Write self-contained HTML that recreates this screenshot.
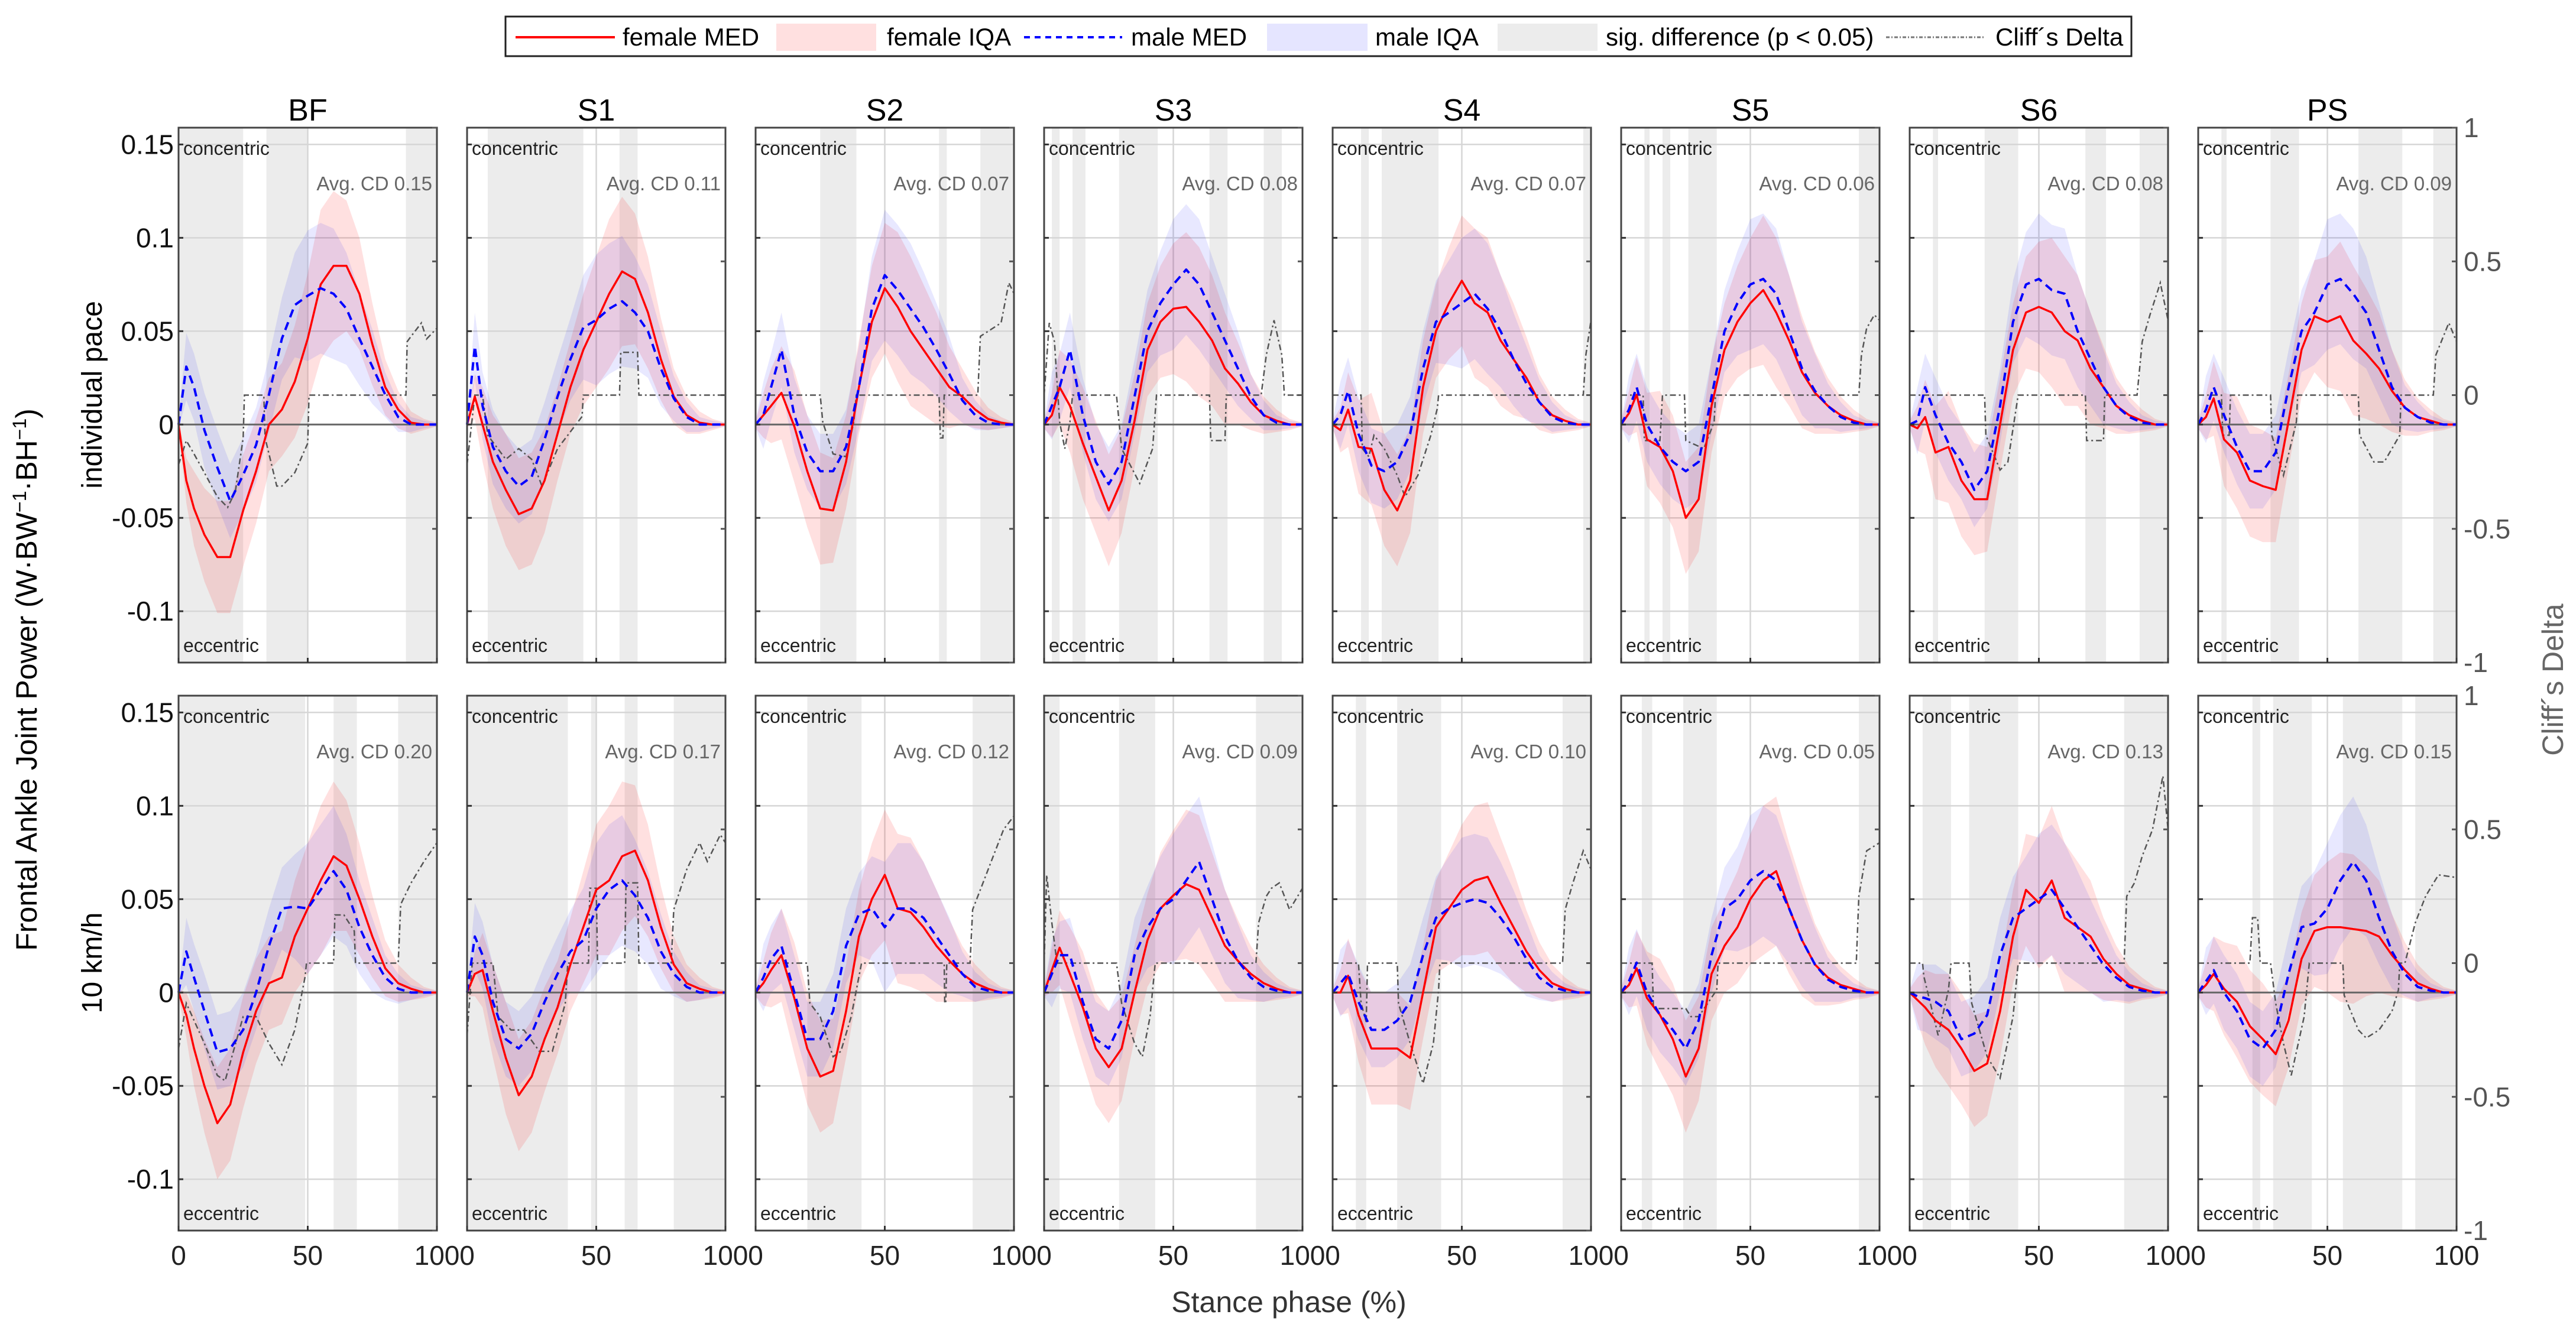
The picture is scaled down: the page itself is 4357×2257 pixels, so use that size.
<!DOCTYPE html>
<html><head><meta charset="utf-8">
<style>
html,body{margin:0;padding:0;background:#fff;}
svg{display:block;font-family:"Liberation Sans",Arial,sans-serif;}
</style></head>
<body>
<svg id="chart" xmlns="http://www.w3.org/2000/svg" width="4357" height="2257" viewBox="0 0 4357 2257">
<rect x="0" y="0" width="4357" height="2257" fill="#fff"/>
<g id="legend">
 <rect x="855" y="28" width="2750" height="67" fill="#fff" stroke="#222" stroke-width="3"/>
 <line x1="872" y1="63" x2="1040" y2="63" stroke="#ff0000" stroke-width="4"/>
 <text x="1053" y="77" font-size="42">female MED</text>
 <rect x="1313" y="40" width="169" height="46" fill="rgba(255,0,0,0.12)"/>
 <text x="1500" y="77" font-size="42">female IQA</text>
 <line x1="1732" y1="63" x2="1898" y2="63" stroke="#0000ff" stroke-width="4" stroke-dasharray="10,8"/>
 <text x="1913" y="77" font-size="42">male MED</text>
 <rect x="2143" y="40" width="170" height="46" fill="rgba(0,0,255,0.1)"/>
 <text x="2326" y="77" font-size="42">male IQA</text>
 <rect x="2533" y="40" width="169" height="46" fill="#ececec"/>
 <text x="2716" y="77" font-size="42">sig. difference (p &lt; 0.05)</text>
 <line x1="3190" y1="63" x2="3358" y2="63" stroke="#777" stroke-width="3" stroke-dasharray="6,3,2,3"/>
 <text x="3375" y="77" font-size="42">Cliff´s Delta</text>
</g>
<text transform="translate(62,1150) rotate(-90)" text-anchor="middle" font-size="50">Frontal Ankle Joint Power (W·BW<tspan font-size="32" dy="-18">−1</tspan><tspan dy="18">·BH</tspan><tspan font-size="32" dy="-18">−1</tspan><tspan dy="18">)</tspan></text>
<text transform="translate(172,668) rotate(-90)" text-anchor="middle" font-size="48">individual pace</text>
<text transform="translate(172,1629) rotate(-90)" text-anchor="middle" font-size="48">10  km/h</text>
<text x="2180" y="2220" text-anchor="middle" font-size="50" fill="#333">Stance phase (%)</text>
<text transform="translate(4335,1150) rotate(-90)" text-anchor="middle" font-size="50" fill="#666">Cliff´s Delta</text>
<g id="panels"></g>
</svg>
<script>
const panelNames = ["BF","S1","S2","S3","S4","S5","S6","PS"];
const xs = [0,3,6,10,15,20,25,30,35,40,45,50,55,60,65,70,75,80,85,90,95,100];
const femSpread = [0.002,0.012,0.02,0.025,0.03,0.03,0.03,0.028,0.025,0.025,0.03,0.035,0.04,0.04,0.035,0.03,0.022,0.015,0.01,0.006,0.003,0.001];
const maleSpread = [0.002,0.018,0.018,0.02,0.02,0.02,0.02,0.02,0.02,0.022,0.028,0.035,0.035,0.035,0.03,0.025,0.02,0.012,0.008,0.004,0.002,0.001];
const avgCD = [["0.15","0.11","0.07","0.08","0.07","0.06","0.08","0.09"],["0.20","0.17","0.12","0.09","0.10","0.05","0.13","0.15"]];
const femMed = [[
 [0,-0.03,-0.045,-0.059,-0.071,-0.071,-0.046,-0.025,0,0.008,0.023,0.046,0.075,0.085,0.085,0.07,0.043,0.02,0.008,0.001,0,0],
 [0,0.015,0.0,-0.02,-0.035,-0.048,-0.045,-0.03,-0.005,0.02,0.04,0.055,0.07,0.082,0.078,0.06,0.035,0.015,0.005,0.001,0,0],
 [0,0.005,0.01,0.017,-0.001,-0.025,-0.045,-0.046,-0.02,0.02,0.055,0.073,0.063,0.05,0.04,0.03,0.02,0.015,0.008,0.003,0.001,0],
 [0,0.005,0.02,0.01,-0.01,-0.028,-0.046,-0.03,0.002,0.04,0.055,0.062,0.063,0.055,0.045,0.03,0.022,0.012,0.005,0.002,0,0],
 [0,-0.003,0.008,-0.012,-0.013,-0.035,-0.046,-0.03,0.02,0.05,0.065,0.077,0.065,0.06,0.045,0.035,0.025,0.012,0.005,0.002,0,0],
 [0,0.006,0.016,-0.008,-0.012,-0.025,-0.05,-0.04,0.01,0.04,0.055,0.065,0.072,0.06,0.045,0.028,0.017,0.01,0.005,0.002,0,0],
 [0,-0.002,0.004,-0.015,-0.012,-0.03,-0.04,-0.04,0.0,0.04,0.06,0.063,0.06,0.05,0.045,0.03,0.02,0.01,0.005,0.002,0,0],
 [0,0.004,0.014,-0.008,-0.015,-0.03,-0.033,-0.035,0.002,0.04,0.058,0.055,0.058,0.045,0.038,0.03,0.018,0.009,0.004,0.002,0,0]
],[
 [0,-0.012,-0.03,-0.05,-0.07,-0.06,-0.032,-0.01,0.005,0.008,0.03,0.045,0.06,0.073,0.068,0.05,0.03,0.013,0.005,0.002,0,0],
 [0,0.01,0.012,-0.01,-0.035,-0.055,-0.045,-0.025,-0.008,0.015,0.035,0.055,0.06,0.073,0.076,0.06,0.035,0.015,0.005,0.002,0,0],
 [0,0.005,0.012,0.02,-0.003,-0.03,-0.045,-0.042,-0.01,0.03,0.05,0.063,0.045,0.043,0.035,0.025,0.017,0.01,0.005,0.002,0,0],
 [0,0.012,0.024,0.01,-0.008,-0.03,-0.04,-0.03,0.0,0.028,0.045,0.052,0.058,0.055,0.04,0.025,0.017,0.01,0.005,0.002,0,0],
 [0,0.0,0.009,-0.012,-0.03,-0.03,-0.03,-0.035,0.0,0.035,0.045,0.055,0.06,0.062,0.048,0.035,0.022,0.012,0.005,0.002,0,0],
 [0,0.004,0.013,-0.003,-0.012,-0.025,-0.045,-0.03,0.01,0.025,0.035,0.05,0.06,0.065,0.045,0.028,0.015,0.008,0.004,0.002,0,0],
 [0,-0.004,-0.008,-0.015,-0.02,-0.03,-0.042,-0.038,-0.01,0.03,0.055,0.048,0.06,0.04,0.035,0.03,0.018,0.01,0.004,0.002,0,0],
 [0,0.004,0.01,0.002,-0.005,-0.018,-0.025,-0.033,-0.015,0.018,0.033,0.035,0.035,0.034,0.033,0.03,0.02,0.012,0.005,0.002,0,0]
]];
const maleMed = [[
 [0,0.031,0.02,-0.003,-0.023,-0.041,-0.027,-0.011,0.016,0.046,0.064,0.069,0.073,0.07,0.062,0.046,0.031,0.016,0.004,0,0,0],
 [0,0.042,0.01,-0.012,-0.025,-0.033,-0.028,-0.008,0.015,0.035,0.052,0.056,0.062,0.066,0.06,0.05,0.03,0.014,0.004,0,0,0],
 [0,0.005,0.02,0.04,0.005,-0.015,-0.025,-0.025,-0.012,0.02,0.062,0.08,0.072,0.062,0.052,0.04,0.027,0.013,0.005,0.001,0,0],
 [0,0.01,0.02,0.04,0.005,-0.02,-0.032,-0.02,0.015,0.05,0.065,0.075,0.083,0.075,0.06,0.045,0.03,0.015,0.005,0.001,0,0],
 [0,0.005,0.018,-0.005,-0.022,-0.025,-0.02,-0.005,0.03,0.055,0.06,0.065,0.07,0.062,0.05,0.035,0.022,0.012,0.004,0.001,0,0],
 [0,0.008,0.02,0.0,-0.012,-0.02,-0.025,-0.02,0.015,0.05,0.065,0.075,0.078,0.07,0.05,0.03,0.018,0.01,0.004,0.001,0,0],
 [0,0.002,0.02,0.005,-0.01,-0.02,-0.035,-0.025,0.01,0.055,0.075,0.078,0.072,0.07,0.05,0.035,0.02,0.01,0.004,0.001,0,0],
 [0,0.008,0.02,0.005,-0.012,-0.025,-0.025,-0.015,0.02,0.05,0.06,0.075,0.078,0.07,0.06,0.04,0.02,0.009,0.004,0.001,0,0]
],[
 [0,0.022,0.008,-0.01,-0.032,-0.03,-0.02,0.0,0.025,0.045,0.046,0.045,0.055,0.065,0.055,0.035,0.02,0.008,0.002,0,0,0],
 [0,0.03,0.02,-0.005,-0.025,-0.03,-0.022,-0.005,0.01,0.022,0.028,0.045,0.055,0.06,0.052,0.04,0.022,0.01,0.003,0,0,0],
 [0,0.008,0.018,0.025,0.0,-0.025,-0.025,-0.01,0.025,0.042,0.045,0.035,0.045,0.045,0.04,0.03,0.02,0.01,0.003,0.001,0,0],
 [0,0.01,0.02,0.02,-0.005,-0.025,-0.03,-0.015,0.02,0.035,0.045,0.05,0.06,0.07,0.05,0.03,0.017,0.008,0.003,0.001,0,0],
 [0,0.005,0.01,-0.005,-0.02,-0.02,-0.015,-0.005,0.02,0.04,0.045,0.048,0.05,0.048,0.04,0.03,0.018,0.008,0.003,0.001,0,0],
 [0,0.006,0.016,0.0,-0.012,-0.02,-0.03,-0.015,0.02,0.045,0.05,0.06,0.065,0.06,0.045,0.028,0.015,0.007,0.003,0.001,0,0],
 [0,-0.002,-0.003,-0.005,-0.01,-0.025,-0.022,-0.012,0.02,0.04,0.045,0.05,0.055,0.045,0.035,0.025,0.015,0.008,0.003,0.001,0,0],
 [0,0.006,0.012,0.0,-0.01,-0.025,-0.03,-0.02,0.01,0.035,0.037,0.045,0.06,0.07,0.06,0.04,0.022,0.01,0.003,0.001,0,0]
]];
const cdX = [[
 [0,3,6,10,15,19,22,25,25.5,33,33.5,38,40,45,50,50.5,88,88.5,90,94,96,100],
 [0,3,6,8,15,20,25,29,35,44.5,45,59,59.5,66,66.5,100],
 [0,25,26,30,35,38,39,71,71.5,72.5,73,86,87,95,98,100],
 [0,2,4,6,8,10,11,28,30,37,42,43.5,64,64.5,70,70.5,84,86,89,92,93,100],
 [0,11,11.5,14,16,20,25,28,33,38,40.5,41,97,98,100],
 [0,8.5,9,15,16,24.5,25,32,36,36.5,92,93,95,98,100],
 [0,29,29.5,35,38,42,68,68.5,75,75.5,88,90,93,97,100],
 [0,9,9.5,12,12.5,28,28.5,33,38,38.5,62,62.5,68,72,78,78.5,91,92,97,100]
],[
 [0,3,10,15,18,25,30,35,40,45,49,49.5,60,60.5,64,68,68.5,85,86,90,95,100],
 [0,2,10,12,17,22,28,33,38,39,47,47.5,50,50.5,61,61.5,66,66.5,79,80,85,90,93,98,100],
 [0,20,21,25,30,33,37,40,41,73,73.2,73.6,74,83,84,88,92,96,100],
 [0,1,3,5,28,30,35,38,41,43,82,83,86,88,91,95,100],
 [0,10,11,13,13.5,25,25.5,30,35,39,41,41.5,89,90,93,97,100],
 [0,12,12.5,25,27,30,37,37.5,91,92,95,100],
 [0,5,5.5,8,11,15,16,23,24,30,35,40,42,83,84,87,90,94,98,100],
 [0,20,21,23,24,28,30,33,36,41,43,56,56.5,62,65,70,75,77.5,78,80,84,88,93,100]
]];
const cdY = [[
 [-0.26,-0.17,-0.22,-0.29,-0.38,-0.42,-0.36,-0.16,0,0,-0.16,-0.34,-0.34,-0.29,-0.18,0,0,0.2,0.22,0.27,0.21,0.25],
 [-0.26,0,0,-0.15,-0.24,-0.2,-0.24,-0.34,-0.2,-0.08,0,0,0.16,0.16,0,0],
 [0,0,-0.1,-0.22,-0.23,-0.1,0,0,-0.16,-0.16,0,0,0.22,0.27,0.42,0.38],
 [0,0.27,0.2,-0.1,-0.2,-0.1,0,0,-0.2,-0.33,-0.2,0,0,-0.17,-0.17,0,0,0.15,0.28,0.15,0,0],
 [0,0,-0.2,-0.23,-0.15,-0.2,-0.3,-0.38,-0.3,-0.15,-0.05,0,0,0.15,0.28],
 [0,0,-0.17,-0.17,0,0,-0.17,-0.2,-0.1,0,0,0.15,0.25,0.3,0.28],
 [0,0,-0.15,-0.28,-0.25,0,0,-0.17,-0.17,0,0,0.2,0.3,0.42,0.28],
 [0,0,-0.15,-0.15,0,0,-0.15,-0.3,-0.1,0,0,-0.15,-0.25,-0.25,-0.15,0,0,0.15,0.27,0.2]
],[
 [-0.32,-0.15,-0.3,-0.42,-0.44,-0.2,-0.2,-0.3,-0.38,-0.25,-0.05,0,0,0.18,0.18,0.12,0,0,0.22,0.3,0.38,0.45],
 [-0.27,0,0,-0.2,-0.25,-0.25,-0.33,-0.33,-0.15,0,0,0.28,0.28,0,0,0.3,0.3,0,0,0.2,0.35,0.45,0.38,0.48,0.45],
 [0,0,-0.15,-0.2,-0.35,-0.33,-0.2,-0.05,0,0,-0.15,-0.15,0,0,0.2,0.3,0.4,0.5,0.55],
 [0,0.33,0.15,0,0,-0.15,-0.3,-0.35,-0.2,0,0,0.15,0.25,0.28,0.3,0.2,0.28],
 [0,0,-0.15,-0.22,0,0,-0.15,-0.3,-0.45,-0.3,-0.1,0,0,0.2,0.3,0.42,0.35],
 [0,0,-0.17,-0.17,-0.2,-0.2,-0.1,0,0,0.25,0.42,0.45],
 [0,0,-0.05,-0.15,-0.27,-0.1,0,0,-0.15,-0.35,-0.43,-0.2,0,0,0.25,0.3,0.4,0.5,0.7,0.5],
 [0,0,0.17,0.17,0,0,-0.15,-0.3,-0.42,-0.2,0,0,-0.12,-0.25,-0.28,-0.25,-0.18,-0.1,0,0,0.15,0.25,0.33,0.32]
]];
const sigSpans = [[
 [[0,25],[34,50],[88,100]],
 [[8,45],[59,66]],
 [[25,39],[71,74],[87,100]],
 [[3,6],[11,16],[29,44],[64,71],[85,92]],
 [[11,14],[19,41],[97,100]],
 [[9,11],[16,19],[26,37],[92,100]],
 [[9,11],[29,42],[68,76],[89,100]],
 [[9,11],[28,39],[62,79],[91,100]]
],[
 [[0,49],[60,69],[85,100]],
 [[0,39],[48,50],[61,66],[80,100]],
 [[20,41],[84,100]],
 [[0,6],[29,43],[82,100]],
 [[9,13],[25,42],[89,100]],
 [[8,12],[24,37],[92,100]],
 [[5,16],[23,42],[83,100]],
 [[21,24],[29,44],[56,79],[84,100]]
]];
const powerTicks = [0.15,0.1,0.05,0,-0.05,-0.1];
const powerTickLabels = ["0.15","0.1","0.05","0","-0.05","-0.1"];
const cdTicks = [1,0.5,0,-0.5,-1];
const cdTickLabels = ["1","0.5","0","-0.5","-1"];
const xTicks = [0,50,100];

const NS = "http://www.w3.org/2000/svg";
const rowTop = [216,1177], PH = 905, PW = 437, LEFT0 = 302, PITCH = 488;
const PMAX = 0.159, PMIN = -0.1275;
function xScale(i, p){ return LEFT0 + i*PITCH + p/100*PW; }
function yScale(r, v){ return rowTop[r] + (PMAX - v)/(PMAX-PMIN)*PH; }
function cdScale(r, c){ return rowTop[r] + (1 - c)/2*PH; }
function mk(tag, attrs, parent){ const e=document.createElementNS(NS,tag); for(const k in attrs) e.setAttribute(k,attrs[k]); parent.appendChild(e); return e; }
const root = document.getElementById("panels");

for(let r=0;r<2;r++){
 for(let i=0;i<8;i++){
  const g = mk("g",{},root);
  
  
  const L = xScale(i,0), R = xScale(i,100), T = rowTop[r], B = T+PH;
  sigSpans[r][i].forEach(s=>{
   const rc = mk("rect",{x:xScale(i,s[0]),y:T,width:xScale(i,s[1])-xScale(i,s[0]),height:PH,fill:"#ececec"},g);
   
   
  });
  powerTicks.forEach(v=>{
   if(v===0) return;
   const gl = mk("line",{x1:L,x2:R,y1:yScale(r,v),y2:yScale(r,v),stroke:"#d6d6d6","stroke-width":2.5},g);
   
   
  });
  const vg = mk("line",{x1:xScale(i,50),x2:xScale(i,50),y1:T,y2:B,stroke:"#d6d6d6","stroke-width":2.5},g);
  
  
  function band(med, spr, fill, name){
   let d="";
   xs.forEach((x,k)=>{ d += (k?"L":"M")+xScale(i,x).toFixed(1)+","+yScale(r,med[k]+spr[k]).toFixed(1); });
   for(let k=xs.length-1;k>=0;k--){ d += "L"+xScale(i,xs[k]).toFixed(1)+","+yScale(r,med[k]-spr[k]).toFixed(1); }
   const p = mk("path",{d:d+"Z",fill:fill,stroke:"none"},g);
   
   
  }
  band(femMed[r][i], femSpread, "rgba(255,0,0,0.12)", "female-iqa-band");
  band(maleMed[r][i], maleSpread, "rgba(0,0,255,0.09)", "male-iqa-band");
  const z = mk("line",{x1:L,x2:R,y1:yScale(r,0),y2:yScale(r,0),stroke:"#666","stroke-width":3},g);
  
  
  let dc="";
  cdX[r][i].forEach((x,k)=>{ dc += (k?"L":"M")+xScale(i,x).toFixed(1)+","+cdScale(r,cdY[r][i][k]).toFixed(1); });
  const cdl = mk("path",{d:dc,fill:"none",stroke:"#555","stroke-width":2.5,"stroke-dasharray":"10,5,3,5"},g);
  
  
  function line(med, color, dash, name, w){
   let d="";
   xs.forEach((x,k)=>{ d += (k?"L":"M")+xScale(i,x).toFixed(1)+","+yScale(r,med[k]).toFixed(1); });
   const p = mk("path",{d:d,fill:"none",stroke:color,"stroke-width":w,"stroke-linejoin":"round"},g);
   if(dash) p.setAttribute("stroke-dasharray",dash);
   
   
  }
  line(femMed[r][i], "#ff0000", null, "female-med-line", 3.5);
  line(maleMed[r][i], "#0000ff", "14,9", "male-med-line", 4);
  const fr = mk("rect",{x:L,y:T,width:PW,height:PH,fill:"none",stroke:"#444","stroke-width":3},g);
  
  
  powerTicks.forEach(v=>{
   const t = mk("line",{x1:L,x2:L+8,y1:yScale(r,v),y2:yScale(r,v),stroke:"#333","stroke-width":3},g);
   
   
  });
  cdTicks.forEach(c=>{
   const t = mk("line",{x1:R-8,x2:R,y1:cdScale(r,c),y2:cdScale(r,c),stroke:"#555","stroke-width":3},g);
   
   
  });
  xTicks.forEach(p=>{
   const t = mk("line",{x1:xScale(i,p),x2:xScale(i,p),y1:B,y2:B-8,stroke:"#333","stroke-width":3},g);
   
   
  });
  const c1 = mk("text",{x:L+8,y:T+46,"font-size":32,fill:"#222"},g);
  c1.textContent = "concentric";
  
  
  const c2 = mk("text",{x:L+8,y:B-18,"font-size":32,fill:"#222"},g);
  c2.textContent = "eccentric";
  
  
  const av = mk("text",{x:R-8,y:T+106,"font-size":33,fill:"#666","text-anchor":"end"},g);
  av.textContent = "Avg. CD " + avgCD[r][i];
  
  
  if(r===0){
   const tt = mk("text",{x:(L+R)/2,y:204,"font-size":52,"text-anchor":"middle",fill:"#000"},g);
   tt.textContent = panelNames[i];
   
   
  }
  if(i===0){
   powerTicks.forEach((v,k)=>{
    const tl = mk("text",{x:L-8,y:yScale(r,v)+16,"font-size":46,"text-anchor":"end",fill:"#111"},g);
    tl.textContent = powerTickLabels[k];
    
    
   });
  }
  if(i===7){
   cdTicks.forEach((c,k)=>{
    const tl = mk("text",{x:R+12,y:cdScale(r,c)+16,"font-size":46,fill:"#555"},g);
    tl.textContent = cdTickLabels[k];
    
    
   });
  }
  if(r===1){
   xTicks.forEach(p=>{
    const tl = mk("text",{x:xScale(i,p),y:2140,"font-size":46,"text-anchor":"middle",fill:"#222"},g);
    tl.textContent = String(p);
    
    
   });
  }
 }
}
</script>
</body></html>
